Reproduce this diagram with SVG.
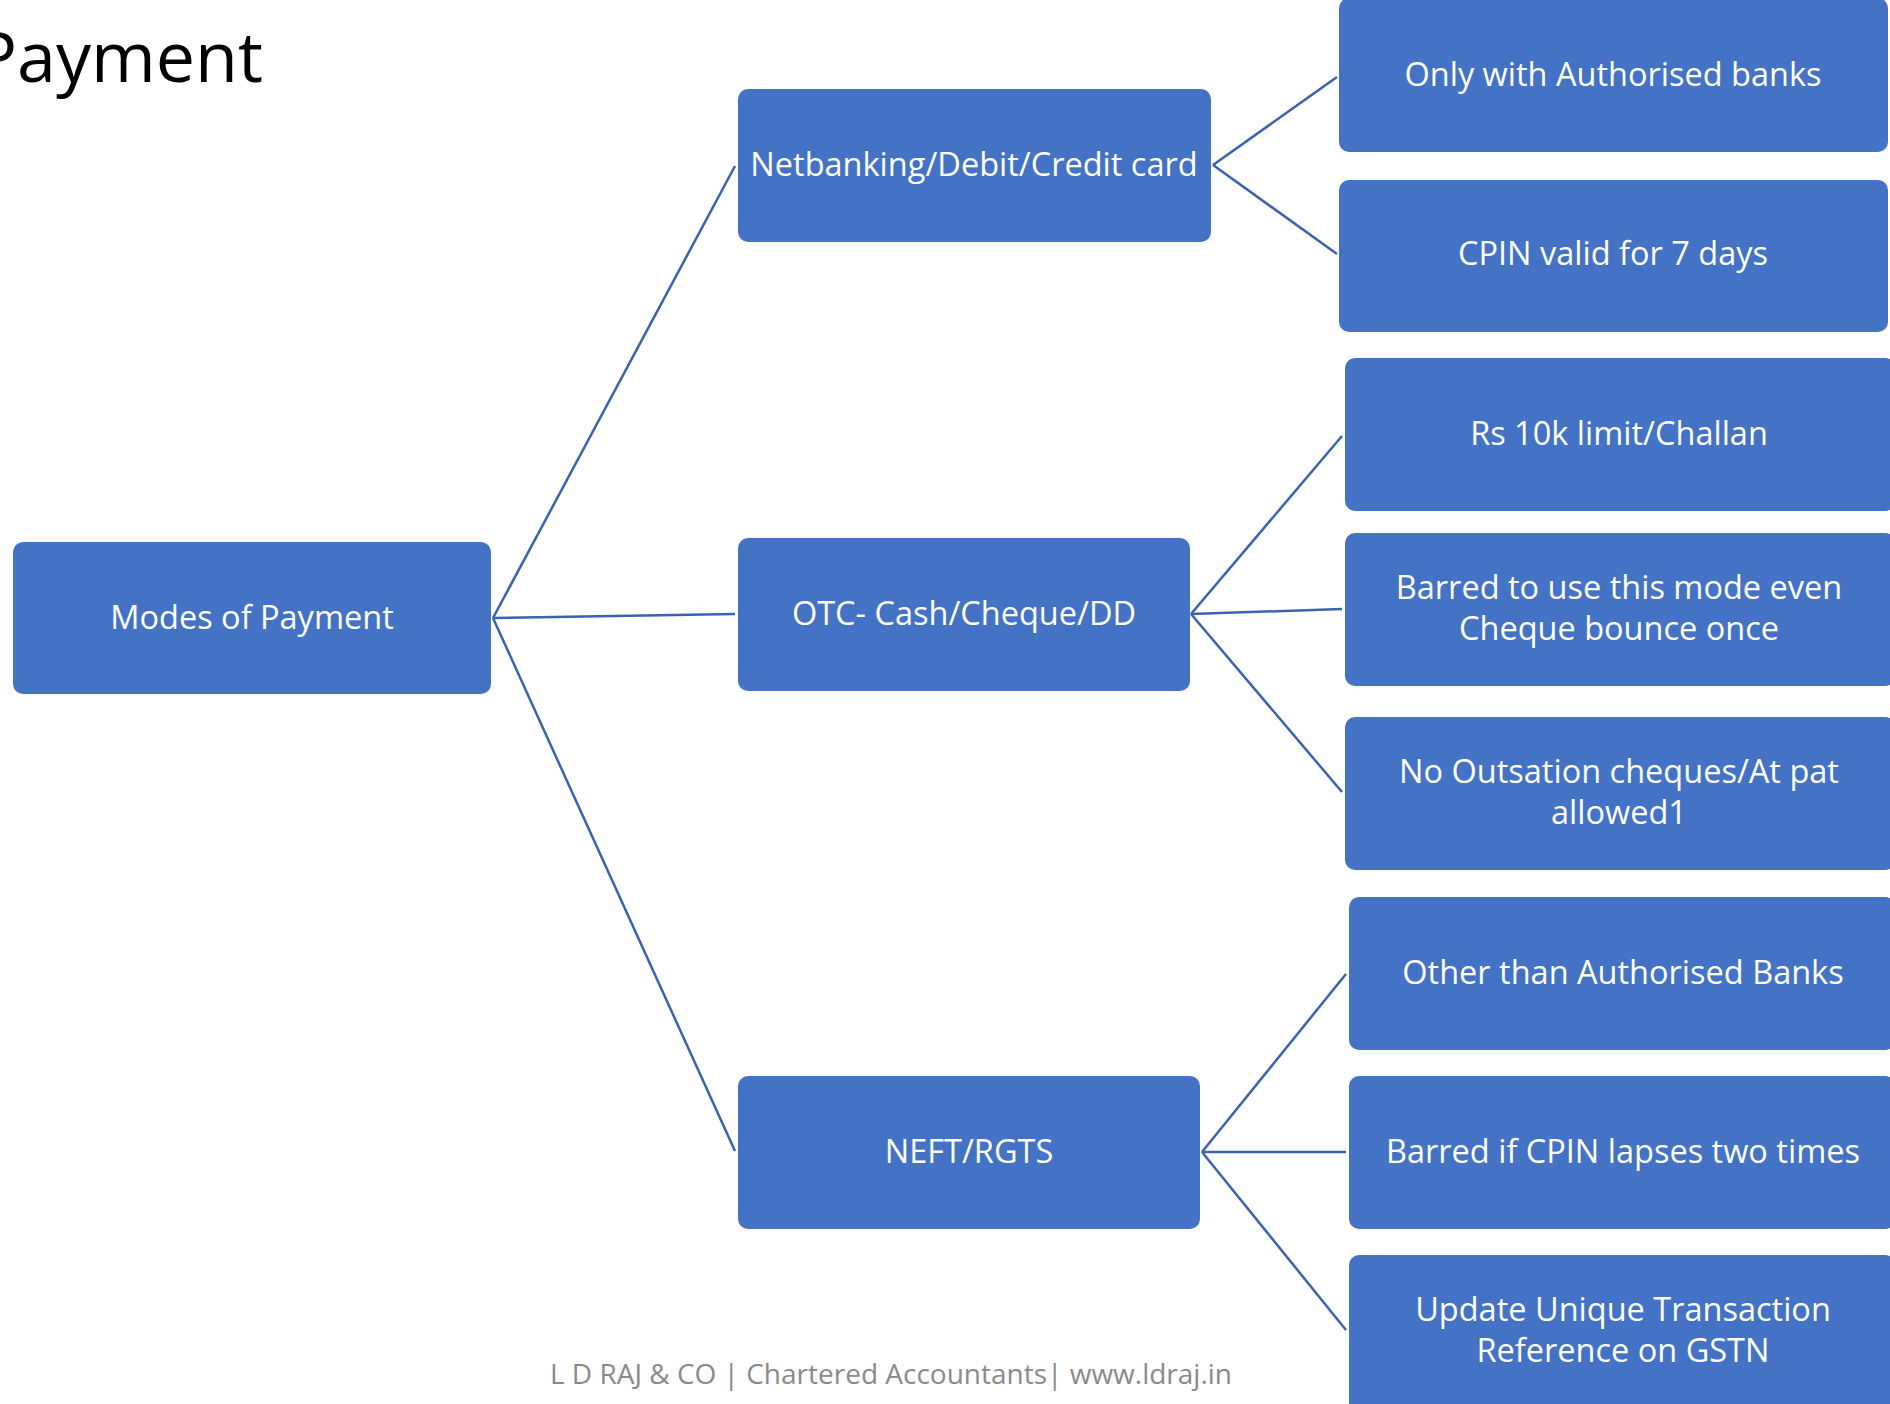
<svg xmlns="http://www.w3.org/2000/svg" width="1890" height="1404" viewBox="0 0 1890 1404">
  <style>
    .box { fill: #4472C4; }
    .lbl { fill: #ffffff; font-family: "Open Sans", "Noto Sans", "Liberation Sans", sans-serif; font-size: 32.5px; text-anchor: middle; dominant-baseline: central; }
    .edge { stroke: #3B62AD; stroke-width: 2.5; fill: none; }
    .title { fill: #000000; font-family: "Open Sans", "Noto Sans", "Liberation Sans", sans-serif; font-size: 70px; text-anchor: end; }
    .foot { fill: #8a8a8a; font-family: "Open Sans", "Noto Sans", "Liberation Sans", sans-serif; font-size: 28px; text-anchor: middle; }
  </style>
  <rect width="1890" height="1404" fill="#ffffff"/>

  <text class="title" x="263" y="82">Payment</text>

  <!-- connectors -->
  <g id="connectors">
    <line class="edge" x1="493" y1="618" x2="735" y2="166"/>
    <line class="edge" x1="493" y1="618" x2="735" y2="614"/>
    <line class="edge" x1="493" y1="618" x2="735" y2="1151"/>
    <line class="edge" x1="1213" y1="165" x2="1337" y2="77"/>
    <line class="edge" x1="1213" y1="165" x2="1337" y2="254"/>
    <line class="edge" x1="1191" y1="614" x2="1342" y2="436"/>
    <line class="edge" x1="1191" y1="614" x2="1342" y2="609"/>
    <line class="edge" x1="1191" y1="614" x2="1342" y2="792"/>
    <line class="edge" x1="1202" y1="1152" x2="1346" y2="974"/>
    <line class="edge" x1="1202" y1="1152" x2="1346" y2="1152"/>
    <line class="edge" x1="1202" y1="1152" x2="1346" y2="1330"/>
  </g>

  <g id="modes">
    <rect class="box" x="13" y="542" width="478" height="152" rx="10"/>
    <text class="lbl" x="252" y="616">Modes of Payment</text>
  </g>

  <g id="netbanking">
    <rect class="box" x="738" y="89" width="473" height="153" rx="10"/>
    <text class="lbl" x="974" y="163">Netbanking/Debit/Credit card</text>
  </g>
  <g id="otc">
    <rect class="box" x="738" y="538" width="452" height="153" rx="10"/>
    <text class="lbl" x="964" y="612">OTC- Cash/Cheque/DD</text>
  </g>
  <g id="neft">
    <rect class="box" x="738" y="1076" width="462" height="153" rx="10"/>
    <text class="lbl" x="969" y="1150">NEFT/RGTS</text>
  </g>

  <g id="authorised-banks">
    <rect class="box" x="1339" y="-2" width="549" height="154" rx="10"/>
    <text class="lbl" x="1613" y="73">Only with Authorised banks</text>
  </g>
  <g id="cpin-valid">
    <rect class="box" x="1339" y="180" width="549" height="152" rx="10"/>
    <text class="lbl" x="1613" y="252">CPIN valid for 7 days</text>
  </g>

  <g id="limit">
    <rect class="box" x="1345" y="358" width="550" height="153" rx="10"/>
    <text class="lbl" x="1619" y="432">Rs 10k limit/Challan</text>
  </g>
  <g id="cheque-bounce">
    <rect class="box" x="1345" y="533" width="550" height="153" rx="10"/>
    <text class="lbl" x="1619" y="586">Barred to use this mode even</text>
    <text class="lbl" x="1619" y="627">Cheque bounce once</text>
  </g>
  <g id="outstation">
    <rect class="box" x="1345" y="717" width="550" height="153" rx="10"/>
    <text class="lbl" x="1619" y="770">No Outsation cheques/At pat</text>
    <text class="lbl" x="1619" y="811">allowed1</text>
  </g>

  <g id="other-banks">
    <rect class="box" x="1349" y="897" width="546" height="153" rx="10"/>
    <text class="lbl" x="1623" y="971">Other than Authorised Banks</text>
  </g>
  <g id="cpin-lapse">
    <rect class="box" x="1349" y="1076" width="546" height="153" rx="10"/>
    <text class="lbl" x="1623" y="1150">Barred if CPIN lapses two times</text>
  </g>
  <g id="utr">
    <rect class="box" x="1349" y="1255" width="546" height="160" rx="10"/>
    <text class="lbl" x="1623" y="1308">Update Unique Transaction</text>
    <text class="lbl" x="1623" y="1349">Reference on GSTN</text>
  </g>

  <text class="foot" x="891" y="1384">L D RAJ &amp; CO | Chartered Accountants| www.ldraj.in</text>
</svg>
